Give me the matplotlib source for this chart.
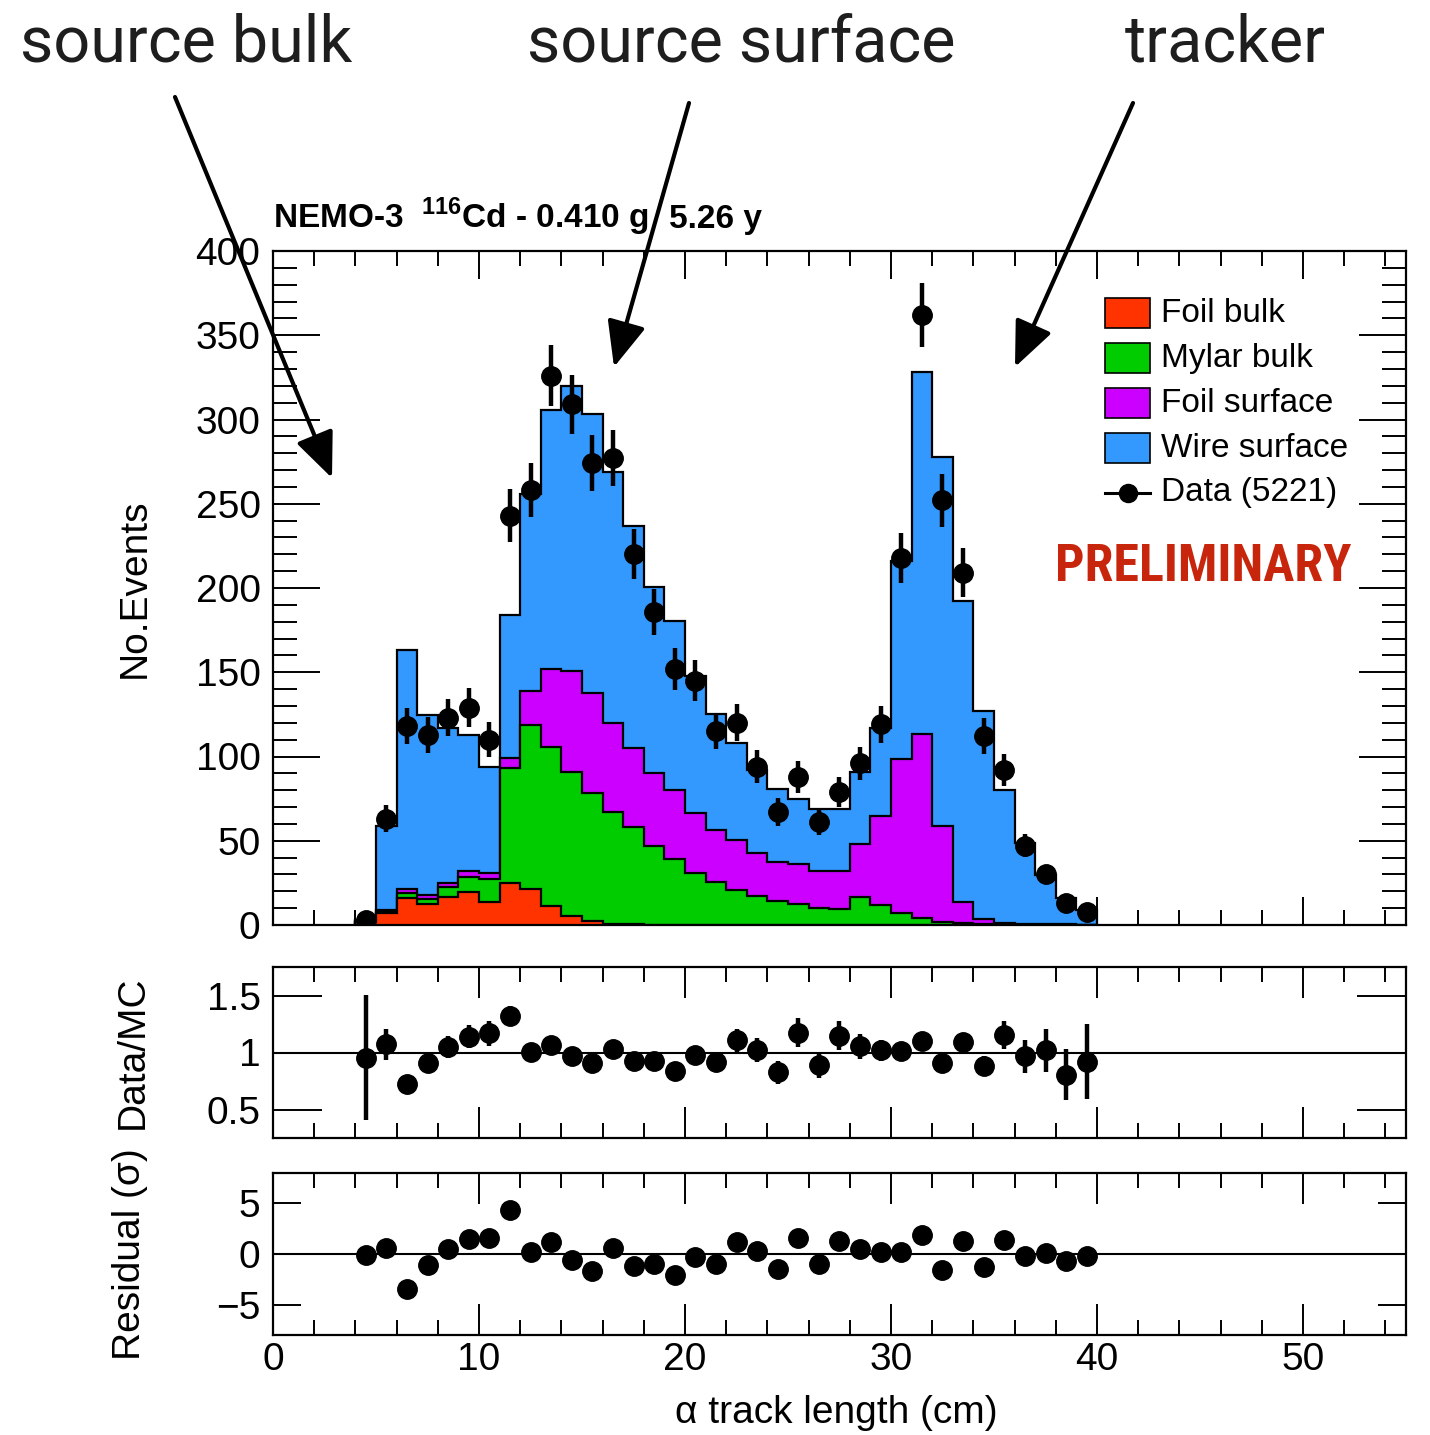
import numpy as np
import matplotlib
matplotlib.use("Agg")
import matplotlib.pyplot as plt
from matplotlib.patches import Rectangle, FancyArrowPatch
from matplotlib.lines import Line2D
from matplotlib.ticker import MultipleLocator, FixedLocator

# ---------------- data ----------------
bin_edges = np.arange(4, 41, 1)          # 36 bins of 1 cm, 4..40
bin_centers = bin_edges[:-1] + 0.5

foil_bulk = [1.5, 7.0, 16.2, 12.3, 16.8, 19.4, 13.8, 24.7, 21.2, 11.5, 5.3, 2.3, 0.6, 0.3,
             0.2, 0.1, 0.1, 0, 0, 0, 0, 0, 0, 0, 0, 0, 0, 0, 0, 0, 0, 0, 0, 0, 0, 0]
mylar_bulk = [0.5, 1.0, 3.0, 3.1, 5.9, 9.3, 13.3, 68.7, 97.6, 94.0, 85.4, 76.3, 66.3, 58.1,
              46.9, 38.9, 31.0, 25.6, 20.6, 17.0, 14.4, 12.2, 9.8, 9.4, 16.8, 11.9, 7.0, 4.0,
              2.0, 1.0, 0.5, 0.3, 0.2, 0.1, 0.1, 0]
foil_surface = [0.3, 1.0, 2.4, 2.2, 2.4, 3.3, 4.0, 6.0, 19.8, 46.5, 60.3, 59.0, 53.2, 46.7,
                43.0, 41.2, 35.2, 30.8, 29.7, 26.0, 22.9, 23.9, 22.1, 22.8, 31.5, 52.6, 91.7,
                109.4, 56.5, 12.8, 3.1, 0.9, 0.4, 0.3, 0.2, 0.2]
wire_surface = [0.8, 49.7, 141.4, 107.1, 91.9, 81.0, 62.9, 84.6, 117.4, 153.5, 169.0, 165.4,
                148.9, 131.9, 110.5, 100.3, 81.7, 68.6, 57.7, 49.0, 43.7, 38.9, 37.1, 36.8,
                42.7, 52.5, 117.3, 214.6, 219.5, 178.2, 123.4, 78.8, 48.1, 29.1, 15.7, 8.5]

data_counts = [3, 63, 118, 113, 123, 129, 110, 243, 258, 326, 309, 274, 277, 220, 186, 152,
               145, 115, 120, 94, 67, 88, 61, 79, 96, 119, 218, 362, 252, 209, 112, 92, 47,
               30, 13, 8]

ratio = [0.956, 1.073, 0.722, 0.906, 1.05, 1.137, 1.167, 1.322, 1.006, 1.067, 0.965, 0.904,
         1.029, 0.927, 0.927, 0.842, 0.98, 0.918, 1.108, 1.023, 0.825, 1.175, 0.886, 1.149,
         1.053, 1.018, 1.009, 1.102, 0.906, 1.088, 0.883, 1.155, 0.965, 1.018, 0.804, 0.921]

residual = [-0.07, 0.56, -3.5, -1.05, 0.52, 1.48, 1.57, 4.36, 0.2, 1.15, -0.62, -1.64, 0.56,
            -1.15, -0.98, -2.03, -0.3, -0.95, 1.15, 0.33, -1.48, 1.54, -0.95, 1.28, 0.52,
            0.23, 0.16, 1.9, -1.54, 1.28, -1.28, 1.41, -0.23, 0.13, -0.72, -0.16]

component_names = ["Foil bulk", "Mylar bulk", "Foil surface", "Wire surface"]
component_colors = ["#FF3300", "#00CC00", "#CC00FF", "#3399FF"]
data_label = "Data (5221)"
title_left = r"NEMO-3  $^{\mathbf{116}}$Cd - 0.410 g"
title_right = "5.26 y"

# ---------------- figure ----------------
W, H = 1430, 1435
fig = plt.figure(figsize=(W / 100, H / 100), dpi=100)
plt.rcParams["font.family"] = ["Liberation Sans", "DejaVu Sans"]
plt.rcParams["mathtext.fontset"] = "custom"
plt.rcParams["mathtext.rm"] = "Liberation Sans"
plt.rcParams["mathtext.bf"] = "Liberation Sans:bold"


def fx(px):
    return px / W


def fy(py):
    return 1 - py / H


L, R = 273, 1406
ax = fig.add_axes([fx(L), fy(925), fx(R) - fx(L), fy(251) - fy(925)])
axr = fig.add_axes([fx(L), fy(1138), fx(R) - fx(L), fy(967) - fy(1138)])
axs = fig.add_axes([fx(L), fy(1335), fx(R) - fx(L), fy(1173) - fy(1335)])

TS = 28  # tick label size (pt)

# stacked histogram
comps = [np.asarray(c, float) for c in (foil_bulk, mylar_bulk, foil_surface, wire_surface)]
cum = np.cumsum(np.vstack(comps), axis=0)
for i in range(3, -1, -1):
    ax.stairs(cum[i], bin_edges, baseline=0, fill=True, facecolor=component_colors[i],
              edgecolor="black", linewidth=1.6, zorder=2 + (3 - i) * 0.1)

d = np.asarray(data_counts, float)
ax.errorbar(bin_centers, d, yerr=np.sqrt(d), fmt="o", color="black", ms=14,
            elinewidth=3.2, capsize=0, zorder=5)

ax.set_xlim(0, 55)
ax.set_ylim(0, 400)
ax.xaxis.set_major_locator(MultipleLocator(10))
ax.xaxis.set_minor_locator(MultipleLocator(2))
ax.yaxis.set_major_locator(MultipleLocator(50))
ax.yaxis.set_minor_locator(MultipleLocator(10))
ax.tick_params(which="both", direction="in", top=True, right=True, width=1.4)
ax.tick_params(axis="x", which="major", length=20)
ax.tick_params(axis="x", which="minor", length=11)
ax.tick_params(axis="y", which="major", length=34)
ax.tick_params(axis="y", which="minor", length=17)
ax.tick_params(axis="x", labelbottom=False)
ax.tick_params(axis="y", labelsize=TS, pad=9)
for s in ax.spines.values():
    s.set_linewidth(1.6)

# legend (manual, ROOT-like)
lx0, lx1 = (1105 - L) / (R - L), (1150 - L) / (R - L)
LS = 24
for k in range(4):
    yc = (925 - (313 + 45 * k)) / 674
    ax.add_patch(Rectangle((lx0, yc - 0.0222), lx1 - lx0, 0.0445, transform=ax.transAxes,
                           facecolor=component_colors[k], edgecolor="black", lw=1.2,
                           zorder=6))
    ax.text((1161 - L) / (R - L), yc, component_names[k], transform=ax.transAxes,
            fontsize=LS, va="center", ha="left", zorder=6)
yc = (925 - 493) / 674
ax.add_line(Line2D([lx0, lx1], [yc, yc], transform=ax.transAxes, color="black", lw=2.2,
                   zorder=6))
ax.add_line(Line2D([(lx0 + lx1) / 2], [yc], transform=ax.transAxes, color="black",
                   marker="o", ms=13, zorder=6))
ax.text((1161 - L) / (R - L), yc, data_label, transform=ax.transAxes, fontsize=LS,
        va="center", ha="left", zorder=6)

# "PRELIMINARY" stamp as real text, font size fitted to the stamp width
prelim = fig.text(fx(1055), fy(581), "PRELIMINARY", fontsize=34, color="#C8260C",
                  fontweight="bold", family=["Roboto Condensed", "Roboto", "Liberation Sans"],
                  ha="left", va="baseline", zorder=10)
fig.canvas.draw()
bb = prelim.get_window_extent(renderer=fig.canvas.get_renderer())
prelim.set_fontsize(34 * (1352 - 1055) / bb.width)

# ratio panel
r = np.asarray(ratio, float)
axr.axhline(1.0, color="black", lw=1.5, zorder=1)
axr.errorbar(bin_centers, r, yerr=r / np.sqrt(d), fmt="o", color="black", ms=14,
             elinewidth=3.2, capsize=0, zorder=5)
axr.set_xlim(0, 55)
axr.set_ylim(0.25, 1.75)
axr.xaxis.set_major_locator(MultipleLocator(10))
axr.xaxis.set_minor_locator(MultipleLocator(2))
axr.yaxis.set_major_locator(FixedLocator([0.5, 1.0, 1.5]))
axr.set_yticklabels(["0.5", "1", "1.5"])
axr.tick_params(which="both", direction="in", top=True, right=True, width=1.4)
axr.tick_params(axis="x", which="major", length=22)
axr.tick_params(axis="x", which="minor", length=11)
axr.tick_params(axis="y", which="major", length=35)
axr.tick_params(axis="x", labelbottom=False)
axr.tick_params(axis="y", labelsize=TS, pad=9)
for s in axr.spines.values():
    s.set_linewidth(1.6)

# residual panel
axs.axhline(0.0, color="black", lw=1.5, zorder=1)
axs.plot(bin_centers, residual, "o", color="black", ms=14, zorder=5)
axs.set_xlim(0, 55)
axs.set_ylim(-8, 8)
axs.xaxis.set_major_locator(MultipleLocator(10))
axs.xaxis.set_minor_locator(MultipleLocator(2))
axs.yaxis.set_major_locator(FixedLocator([-5, 0, 5]))
axs.set_yticklabels(["\u22125", "0", "5"])
axs.tick_params(which="both", direction="in", top=True, right=True, width=1.4)
axs.tick_params(axis="x", which="major", length=22)
axs.tick_params(axis="x", which="minor", length=11)
axs.tick_params(axis="y", which="major", length=20)
axs.tick_params(axis="y", labelsize=TS, pad=9)
axs.tick_params(axis="x", labelsize=TS, pad=5)
for s in axs.spines.values():
    s.set_linewidth(1.6)

# axis titles
fig.text(fx(135), fy(588), "No.Events", rotation=90, fontsize=TS, ha="center", va="center")
fig.text(fx(133), fy(1052), "Data/MC", rotation=90, fontsize=TS, ha="center", va="center")
fig.text(fx(130), fy(1254), "Residual (\u03c3)", rotation=90, fontsize=TS, ha="center",
         va="center")
fig.text(fx(836), fy(1413), "\u03b1 track length (cm)", fontsize=TS, ha="center",
         va="center")

# title (the gap is crossed by an arrow)
fig.text(fx(273), fy(228), title_left, fontsize=24, fontweight="bold", ha="left",
         va="baseline")
fig.text(fx(669), fy(228), title_right, fontsize=24, fontweight="bold", ha="left",
         va="baseline")

# big annotations with arrows
big = dict(fontsize=46.5, family=["Roboto", "Liberation Sans"], fontweight="normal",
           va="baseline", ha="left", color="#1e1e1e")
fig.text(fx(20), fy(62), "source bulk", **big)
fig.text(fx(527), fy(62), "source surface", **big)
fig.text(fx(1125), fy(62), "tracker", **big)

for (xa, ya), (xb, yb) in [((175, 97), (332, 478)), ((689, 103), (614, 367)),
                           ((1133, 103), (1015, 367))]:
    arr = FancyArrowPatch((fx(xa), fy(ya)), (fx(xb), fy(yb)), transform=fig.transFigure,
                          arrowstyle="-|>,head_length=1.4,head_width=0.6",
                          mutation_scale=20, lw=3, color="black", shrinkA=0, shrinkB=0,
                          zorder=20)
    fig.add_artist(arr)

fig.savefig("out.png", dpi=100)
